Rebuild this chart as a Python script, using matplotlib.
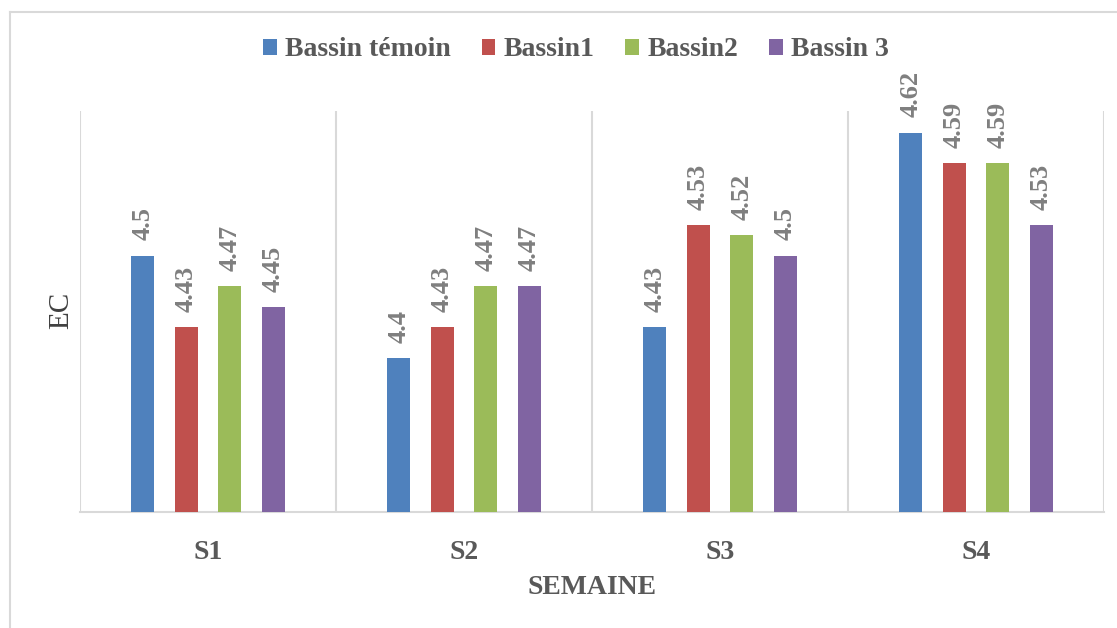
import matplotlib
matplotlib.use("Agg")
import matplotlib.pyplot as plt
from matplotlib.lines import Line2D
from matplotlib.patches import Patch
import numpy as np

plt.rcParams["font.family"] = ["Liberation Serif", "DejaVu Serif"]

weeks = ["S1", "S2", "S3", "S4"]
series = ["Bassin témoin", "Bassin1", "Bassin2", "Bassin 3"]
temoin = [4.5, 4.4, 4.43, 4.62]
bassin1 = [4.43, 4.43, 4.53, 4.59]
bassin2 = [4.47, 4.47, 4.52, 4.59]
bassin3 = [4.45, 4.47, 4.5, 4.53]
colors = ["#4F81BD", "#C0504D", "#9BBB59", "#8064A2"]

TEXT = "#595959"
LABEL = "#7F7F7F"
GRID = "#D9D9D9"

fig = plt.figure(figsize=(11.17, 6.28), dpi=100)
ax = fig.add_axes([80 / 1117, 1 - 512 / 628, 1024 / 1117, 401 / 628])

x = np.arange(len(weeks))
pitch, width = 0.17, 0.09
for j, (vals, col) in enumerate(zip([temoin, bassin1, bassin2, bassin3], colors)):
    pos = x + (j - 1.5) * pitch
    bars = ax.bar(pos, vals, width=width, color=col, zorder=3)
    for b, v in zip(bars, vals):
        ax.annotate(f"{v:g}", (b.get_x() + b.get_width() / 2, v),
                    xytext=(0, 11), textcoords="offset points",
                    rotation=90, ha="center", va="bottom",
                    fontsize=19, fontweight="bold", color=LABEL)

ax.set_xlim(-0.5, len(weeks) - 0.5)
ax.set_ylim(4.25, 4.641)

# category separators
for b in np.arange(-0.5, len(weeks) + 0.5):
    ax.axvline(b, color=GRID, linewidth=1.5, zorder=1)

for s in ("top", "right", "left"):
    ax.spines[s].set_visible(False)
ax.spines["bottom"].set_color(GRID)
ax.spines["bottom"].set_linewidth(1.5)
ax.set_yticks([])
ax.set_xticks(x)
ax.set_xticklabels(weeks, fontsize=20, fontweight="bold", color=TEXT)
ax.tick_params(axis="x", length=0, pad=20)

fig.text(592 / 1117, 1 - 587 / 628, "SEMAINE", ha="center", va="center",
         fontsize=20, fontweight="bold", color=TEXT)
fig.text(61 / 1117, 1 - 310 / 628, "EC", ha="center", va="center",
         rotation=90, fontsize=21, color="#404040")

handles = [Patch(facecolor=c, edgecolor="none", label=s) for s, c in zip(series, colors)]
fig.legend(handles=handles, loc="center", bbox_to_anchor=(576 / 1117, 1 - 50 / 628),
           ncol=4, frameon=False, handlelength=0.5, handleheight=0.5,
           handletextpad=0.3, columnspacing=1.1,
           prop={"size": 20, "weight": "bold"}, labelcolor=TEXT)

# outer chart frame (left and top edges)
fig.add_artist(Line2D([10 / 1117, 10 / 1117], [0, 1 - 12 / 628],
                      transform=fig.transFigure, color=GRID, linewidth=1.5))
fig.add_artist(Line2D([10 / 1117, 1], [1 - 12 / 628, 1 - 12 / 628],
                      transform=fig.transFigure, color=GRID, linewidth=1.5))

fig.savefig("out.png", dpi=100)
